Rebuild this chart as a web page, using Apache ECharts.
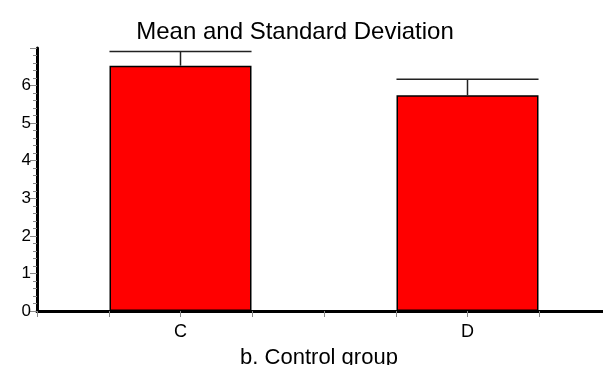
<!DOCTYPE html>
<html><head><meta charset="utf-8">
<script src="https://cdn.jsdelivr.net/npm/echarts@6/dist/echarts.min.js"></script>
<style>html,body{margin:0;padding:0;background:#fff}#c{width:603px;height:365px}</style>
</head><body><div id="c"></div>
<script>
const categories = ['C', 'D'];
const means = [6.53, 5.74];
const sds = [0.38, 0.43];
const yTicks = [0, 1, 2, 3, 4, 5, 6];

const chart = echarts.init(document.getElementById('c'), null, {renderer: 'canvas'});
const barData = means.map((m, i) => [i, m]);
const errData = means.map((m, i) => [i, m, m + sds[i]]);
const font = 'Liberation Sans, Arial, sans-serif';
chart.setOption({
  animation: false,
  title: {text: 'Mean and Standard Deviation', left: 290, top: 15, textAlign: 'center',
    textStyle: {fontFamily: font, fontWeight: 'normal', fontSize: 24, color: '#000'}},
  grid: {left: 37, right: -8, top: 48, bottom: 54, containLabel: false, outerBoundsMode: 'none'},
  xAxis: {type: 'value', min: -0.5, max: 1.5, interval: 0.25,
    name: 'b. Control group', nameLocation: 'middle', nameGap: 36,
    nameTextStyle: {fontFamily: font, fontSize: 22, color: '#000', padding: [0, 10, 0, 0]},
    axisLine: {show: true, onZero: false, lineStyle: {color: '#000', width: 3}},
    axisTick: {show: true, length: 6, lineStyle: {color: '#888', width: 1}},
    splitLine: {show: false},
    axisLabel: {fontFamily: font, fontSize: 18, color: '#000', margin: 12,
      formatter: v => { const i = Math.round(v); return Math.abs(v - i) < 1e-6 && categories[i] !== undefined ? categories[i] : ''; }}
  },
  yAxis: {type: 'value', min: 0, max: 7, interval: 1,
    axisLine: {show: true, onZero: false, lineStyle: {color: '#000', width: 3}},
    axisTick: {show: true, length: 7, lineStyle: {color: '#888', width: 1}},
    minorTick: {show: true, splitNumber: 5, length: 4, lineStyle: {color: '#888', width: 1}},
    splitLine: {show: false},
    axisLabel: {fontFamily: font, fontSize: 17, color: '#000', margin: 6,
      formatter: v => yTicks.includes(v) ? String(v) : ''}
  },
  series: [
    {type: 'bar', data: barData, barWidth: 142, itemStyle: {color: '#ff0000', borderColor: '#000', borderWidth: 1.5}, z: 2},
    {type: 'custom', data: errData, z: 3,
      renderItem: function (params, api) {
        const x = api.value(0);
        const base = api.coord([x, api.value(1)]);
        const top = api.coord([x, api.value(2)]);
        const hw = api.size([0.25, 0])[0] * 0.99;
        return {type: 'group', children: [
          {type: 'line', shape: {x1: base[0], y1: base[1], x2: top[0], y2: top[1]}, style: {stroke: '#222', lineWidth: 1.5}},
          {type: 'line', shape: {x1: top[0] - hw, y1: top[1], x2: top[0] + hw, y2: top[1]}, style: {stroke: '#222', lineWidth: 1.5}}
        ]};
      }}
  ]
});
</script></body></html>
